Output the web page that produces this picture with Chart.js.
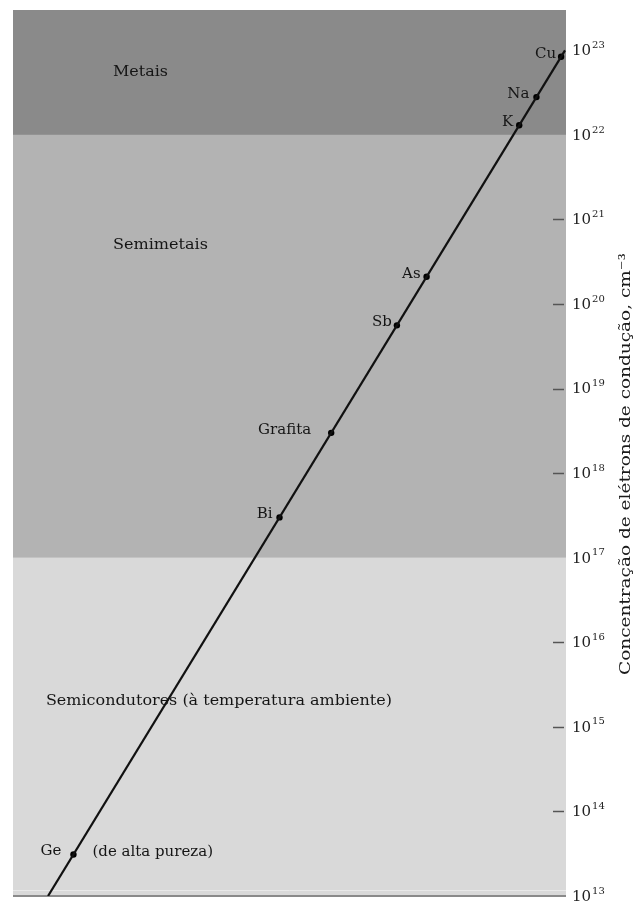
<!DOCTYPE html>
<html>
<head>
<meta charset="utf-8">
<script src="https://cdn.jsdelivr.net/npm/chart.js@4/dist/chart.umd.min.js"></script>
<style>
  html, body { margin: 0; padding: 0; background: #ffffff; }
  #wrap { width: 635px; height: 904px; position: relative; }
</style>
</head>
<body>
<div id="wrap"><canvas id="c" width="635" height="904"></canvas></div>
<script>
// ---------- DATA ----------
const materials = ['Cu', 'Na', 'K', 'As', 'Sb', 'Grafita', 'Bi', 'Ge'];
const concentrations = [8.4e22, 2.8e22, 1.3e22, 2.1e20, 5.6e19, 3.0e18, 3.0e17, 3.1e13];
const notes = ['', '', '', '', '', '', '', '(de alta pureza)'];
const lineEnds = [1e13, 1e23];
const tickExponents = [13, 14, 15, 16, 17, 18, 19, 20, 21, 22, 23];
const markedExponents = [14, 15, 16, 18, 19, 20, 21];
const bandNames = ['Semicondutores (à temperatura ambiente)', 'Semimetais', 'Metais'];
const bandLower = [1e13, 1e17, 1e22];
const bandUpper = [1e17, 1e22, 3e23];
const axisTitle = 'Concentração de elétrons de condução, cm⁻³';

// ---------- STYLE ----------
const FONT = '"DejaVu Serif", "Liberation Serif", serif';
const bandColors = ['#d9d9d9', '#b3b3b3', '#8a8a8a'];
// label anchors in data units (x, y) for band names
const bandLabelAnchors = [
  { x: 9.1e12, y: 2.0e15 },
  { x: 1.8e14, y: 5.0e20 },
  { x: 1.8e14, y: 5.5e22 }
];
const bandLabelWidths = [346, 95, 55];
const labelGaps = [5, 7, 6, 6, 5, 20, 7, 12];

const linePts = lineEnds.map(v => ({ x: v, y: v }));
const matPts = concentrations.map(v => ({ x: v, y: v }));

const decor = {
  id: 'decor',
  beforeDatasetsDraw(chart) {
    const { ctx, chartArea: a, scales: { x, y } } = chart;
    ctx.save();
    for (let i = 0; i < bandNames.length; i++) {
      const top = Math.max(a.top, y.getPixelForValue(bandUpper[i]));
      const bot = Math.min(a.bottom, y.getPixelForValue(bandLower[i]));
      ctx.fillStyle = bandColors[i];
      ctx.fillRect(a.left, top, a.right - a.left, bot - top);
    }
    ctx.fillStyle = '#151515';
    ctx.textBaseline = 'middle';
    ctx.font = '15px ' + FONT;
    for (let i = 0; i < bandNames.length; i++) {
      const anc = bandLabelAnchors[i];
      const px = x.getPixelForValue(anc.x), py = y.getPixelForValue(anc.y);
      const w = ctx.measureText(bandNames[i]).width;
      ctx.save();
      ctx.translate(px, py);
      ctx.scale(bandLabelWidths[i] / w, 1);
      ctx.textAlign = 'left';
      ctx.fillText(bandNames[i], 0, 0);
      ctx.restore();
    }
    ctx.strokeStyle = '#e9e9e9';
    ctx.lineWidth = 1;
    ctx.beginPath();
    ctx.moveTo(a.left, a.bottom - 5.5);
    ctx.lineTo(a.right, a.bottom - 5.5);
    ctx.stroke();
    ctx.strokeStyle = '#8a8a8a';
    ctx.lineWidth = 2;
    ctx.beginPath();
    ctx.moveTo(a.left, a.bottom);
    ctx.lineTo(a.right, a.bottom);
    ctx.stroke();
    ctx.restore();
  },
  afterDatasetsDraw(chart) {
    const { ctx, chartArea: a, scales: { x, y } } = chart;
    ctx.save();
    ctx.fillStyle = '#151515';
    ctx.font = '15px ' + FONT;
    ctx.textBaseline = 'middle';
    for (let i = 0; i < materials.length; i++) {
      const px = x.getPixelForValue(concentrations[i]);
      const py = y.getPixelForValue(concentrations[i]);
      ctx.textAlign = 'right';
      ctx.fillText(materials[i], px - labelGaps[i], py - 3);
      if (notes[i]) {
        ctx.textAlign = 'left';
        ctx.fillText(notes[i], px + 19, py - 2);
      }
    }
    ctx.strokeStyle = '#555';
    ctx.lineWidth = 1.5;
    markedExponents.forEach(e => {
      const py = Math.round(y.getPixelForValue(Math.pow(10, e))) + 0.5;
      ctx.beginPath();
      ctx.moveTo(a.right - 13, py);
      ctx.lineTo(a.right - 2, py);
      ctx.stroke();
    });
    ctx.fillStyle = '#222';
    ctx.textAlign = 'left';
    tickExponents.forEach(e => {
      const py = y.getPixelForValue(Math.pow(10, e));
      ctx.font = '15px ' + FONT;
      ctx.textBaseline = 'middle';
      ctx.fillText('10', a.right + 6, py + 1);
      const w = ctx.measureText('10').width;
      ctx.font = '10px ' + FONT;
      ctx.fillText(String(e), a.right + 6 + w + 1, py - 5);
    });
    ctx.save();
    ctx.font = '15px ' + FONT;
    const tw = ctx.measureText(axisTitle).width;
    ctx.translate(626, (a.top + a.bottom) / 2 + 11);
    ctx.rotate(-Math.PI / 2);
    ctx.scale(422 / tw, 1);
    ctx.textAlign = 'center';
    ctx.textBaseline = 'middle';
    ctx.fillStyle = '#1a1a1a';
    ctx.fillText(axisTitle, 0, 0);
    ctx.restore();
    ctx.restore();
  }
};

new Chart(document.getElementById('c'), {
  type: 'scatter',
  data: {
    datasets: [
      {
        data: linePts,
        showLine: true,
        borderColor: '#111',
        borderWidth: 2.2,
        pointRadius: 0,
        fill: false
      },
      {
        data: matPts,
        showLine: false,
        pointStyle: 'circle',
        pointRadius: 3.2,
        backgroundColor: '#000',
        borderColor: '#000',
        borderWidth: 0
      }
    ]
  },
  options: {
    responsive: false,
    animation: false,
    events: [],
    layout: { padding: { left: 13, top: 10, bottom: 8, right: 0 } },
    plugins: { legend: { display: false }, tooltip: { enabled: false } },
    scales: {
      x: {
        type: 'logarithmic',
        min: 2.1e12,
        max: 1.045e23,
        display: false
      },
      y: {
        type: 'logarithmic',
        position: 'right',
        min: 1e13,
        max: 3e23,
        grid: { display: false },
        border: { display: false },
        ticks: { display: false },
        afterBuildTicks: s => { s.ticks = tickExponents.map(e => ({ value: Math.pow(10, e) })); },
        afterFit: s => { s.width = 69; }
      }
    }
  },
  plugins: [decor]
});
</script>
</body>
</html>
